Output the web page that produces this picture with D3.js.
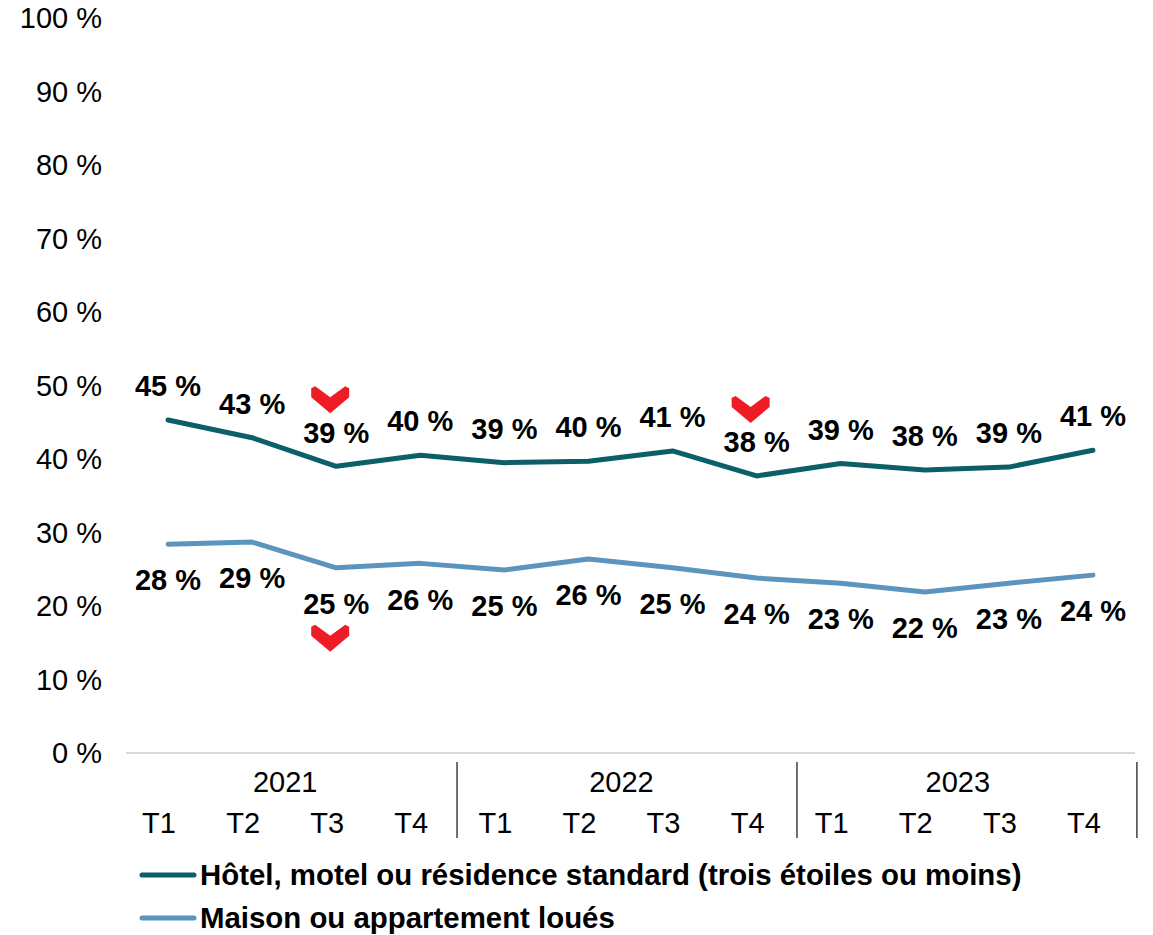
<!DOCTYPE html>
<html>
<head>
<meta charset="utf-8">
<script src="https://cdn.jsdelivr.net/npm/d3@7"></script>
<style>
  body { margin: 0; background: #fff; }
  svg text { font-family: "Liberation Sans", Arial, sans-serif; fill: #000; }
</style>
</head>
<body>
<svg id="chart" width="1153" height="935"></svg>
<script>
const years = ["2021", "2022", "2023"];
const quarters = ["T1", "T2", "T3", "T4"];
const hotel = [45.3, 42.9, 39.0, 40.5, 39.5, 39.7, 41.1, 37.7, 39.4, 38.5, 38.9, 41.2];
const hotelLabels = ["45 %", "43 %", "39 %", "40 %", "39 %", "40 %", "41 %", "38 %", "39 %", "38 %", "39 %", "41 %"];
const maison = [28.4, 28.7, 25.2, 25.8, 24.9, 26.4, 25.2, 23.8, 23.1, 21.9, 23.1, 24.2];
const maisonLabels = ["28 %", "29 %", "25 %", "26 %", "25 %", "26 %", "25 %", "24 %", "23 %", "22 %", "23 %", "24 %"];
const yTicks = [0, 10, 20, 30, 40, 50, 60, 70, 80, 90, 100];
const legendNames = ["Hôtel, motel ou résidence standard (trois étoiles ou moins)", "Maison ou appartement loués"];
// index of points with a red "down" marker
const hotelDown = [2, 7];
const maisonDown = [2];

const colors = ["#0a5f68", "#5b95bd"];
const fs = "29px";

const svg = d3.select("#chart");

const cats = [];
years.forEach(y => quarters.forEach(q => cats.push(y + "-" + q)));

const x = d3.scaleBand().domain(cats).range([126, 1135]);
const y = d3.scaleLinear().domain([0, 100]).range([753, 18]);
const cx = i => x(cats[i]) + x.bandwidth() / 2;

// y axis labels
svg.append("g").selectAll("text")
  .data(yTicks)
  .enter().append("text")
  .attr("x", 102)
  .attr("y", d => y(d))
  .attr("dy", "0.35em")
  .attr("text-anchor", "end")
  .style("font-size", fs)
  .text(d => d + " %");

// baseline
svg.append("line")
  .attr("x1", x.range()[0]).attr("x2", x.range()[1])
  .attr("y1", y(0)).attr("y2", y(0))
  .attr("stroke", "#d9d9d9").attr("stroke-width", 2);

// category labels
svg.append("g").selectAll("text")
  .data(cats)
  .enter().append("text")
  .attr("x", (d, i) => cx(i) - 9)
  .attr("y", 823)
  .attr("dy", "0.35em")
  .attr("text-anchor", "middle")
  .style("font-size", fs)
  .text(d => d.split("-")[1]);

// year labels and separators
years.forEach((yr, k) => {
  const x0 = x(yr + "-T1");
  const x1 = x(yr + "-T4") + x.bandwidth();
  svg.append("text")
    .attr("x", (x0 + x1) / 2 - 9)
    .attr("y", 782)
    .attr("dy", "0.35em")
    .attr("text-anchor", "middle")
    .style("font-size", fs)
    .text(yr);
  const sx = x1 - 1.7 + (k - 1) * 3.6;
  svg.append("line")
    .attr("x1", sx).attr("x2", sx)
    .attr("y1", 762).attr("y2", 838)
    .attr("stroke", "#404040").attr("stroke-width", 1.5);
});

const line = d3.line().x((d, i) => cx(i)).y(d => y(d));

[hotel, maison].forEach((s, k) => {
  svg.append("path")
    .datum(s)
    .attr("d", line)
    .attr("fill", "none")
    .attr("stroke", colors[k])
    .attr("stroke-width", 5)
    .attr("stroke-linejoin", "round")
    .attr("stroke-linecap", "round");
});

// data labels
svg.append("g").selectAll("text")
  .data(hotel)
  .enter().append("text")
  .attr("x", (d, i) => cx(i))
  .attr("y", d => y(d) - 34)
  .attr("dy", "0.35em")
  .attr("text-anchor", "middle")
  .style("font-size", fs)
  .style("font-weight", "bold")
  .text((d, i) => hotelLabels[i]);

svg.append("g").selectAll("text")
  .data(maison)
  .enter().append("text")
  .attr("x", (d, i) => cx(i))
  .attr("y", d => y(d) + 36)
  .attr("dy", "0.35em")
  .attr("text-anchor", "middle")
  .style("font-size", fs)
  .style("font-weight", "bold")
  .text((d, i) => maisonLabels[i]);

// red chevrons
const chevron = "M-19,2 L-15,0 L0,11 L15,0 L19,2 L19,11 L0,27 L-19,11 Z";
hotelDown.forEach(i => {
  svg.append("path")
    .attr("d", chevron)
    .attr("transform", `translate(${cx(i) - 6},${y(hotel[i]) - 80})`)
    .attr("fill", "#ee1c25");
});
maisonDown.forEach(i => {
  svg.append("path")
    .attr("d", chevron)
    .attr("transform", `translate(${cx(i) - 6},${y(maison[i]) + 57})`)
    .attr("fill", "#ee1c25");
});

// legend
const legend = svg.append("g");
legendNames.forEach((name, k) => {
  const ly = 875 + k * 43;
  legend.append("line")
    .attr("x1", 142).attr("x2", 194)
    .attr("y1", ly).attr("y2", ly)
    .attr("stroke", colors[k]).attr("stroke-width", 5)
    .attr("stroke-linecap", "round");
  legend.append("text")
    .attr("x", 200)
    .attr("y", ly)
    .attr("dy", "0.35em")
    .style("font-size", "29.4px")
    .style("font-weight", "bold")
    .text(name);
});
</script>
</body>
</html>
